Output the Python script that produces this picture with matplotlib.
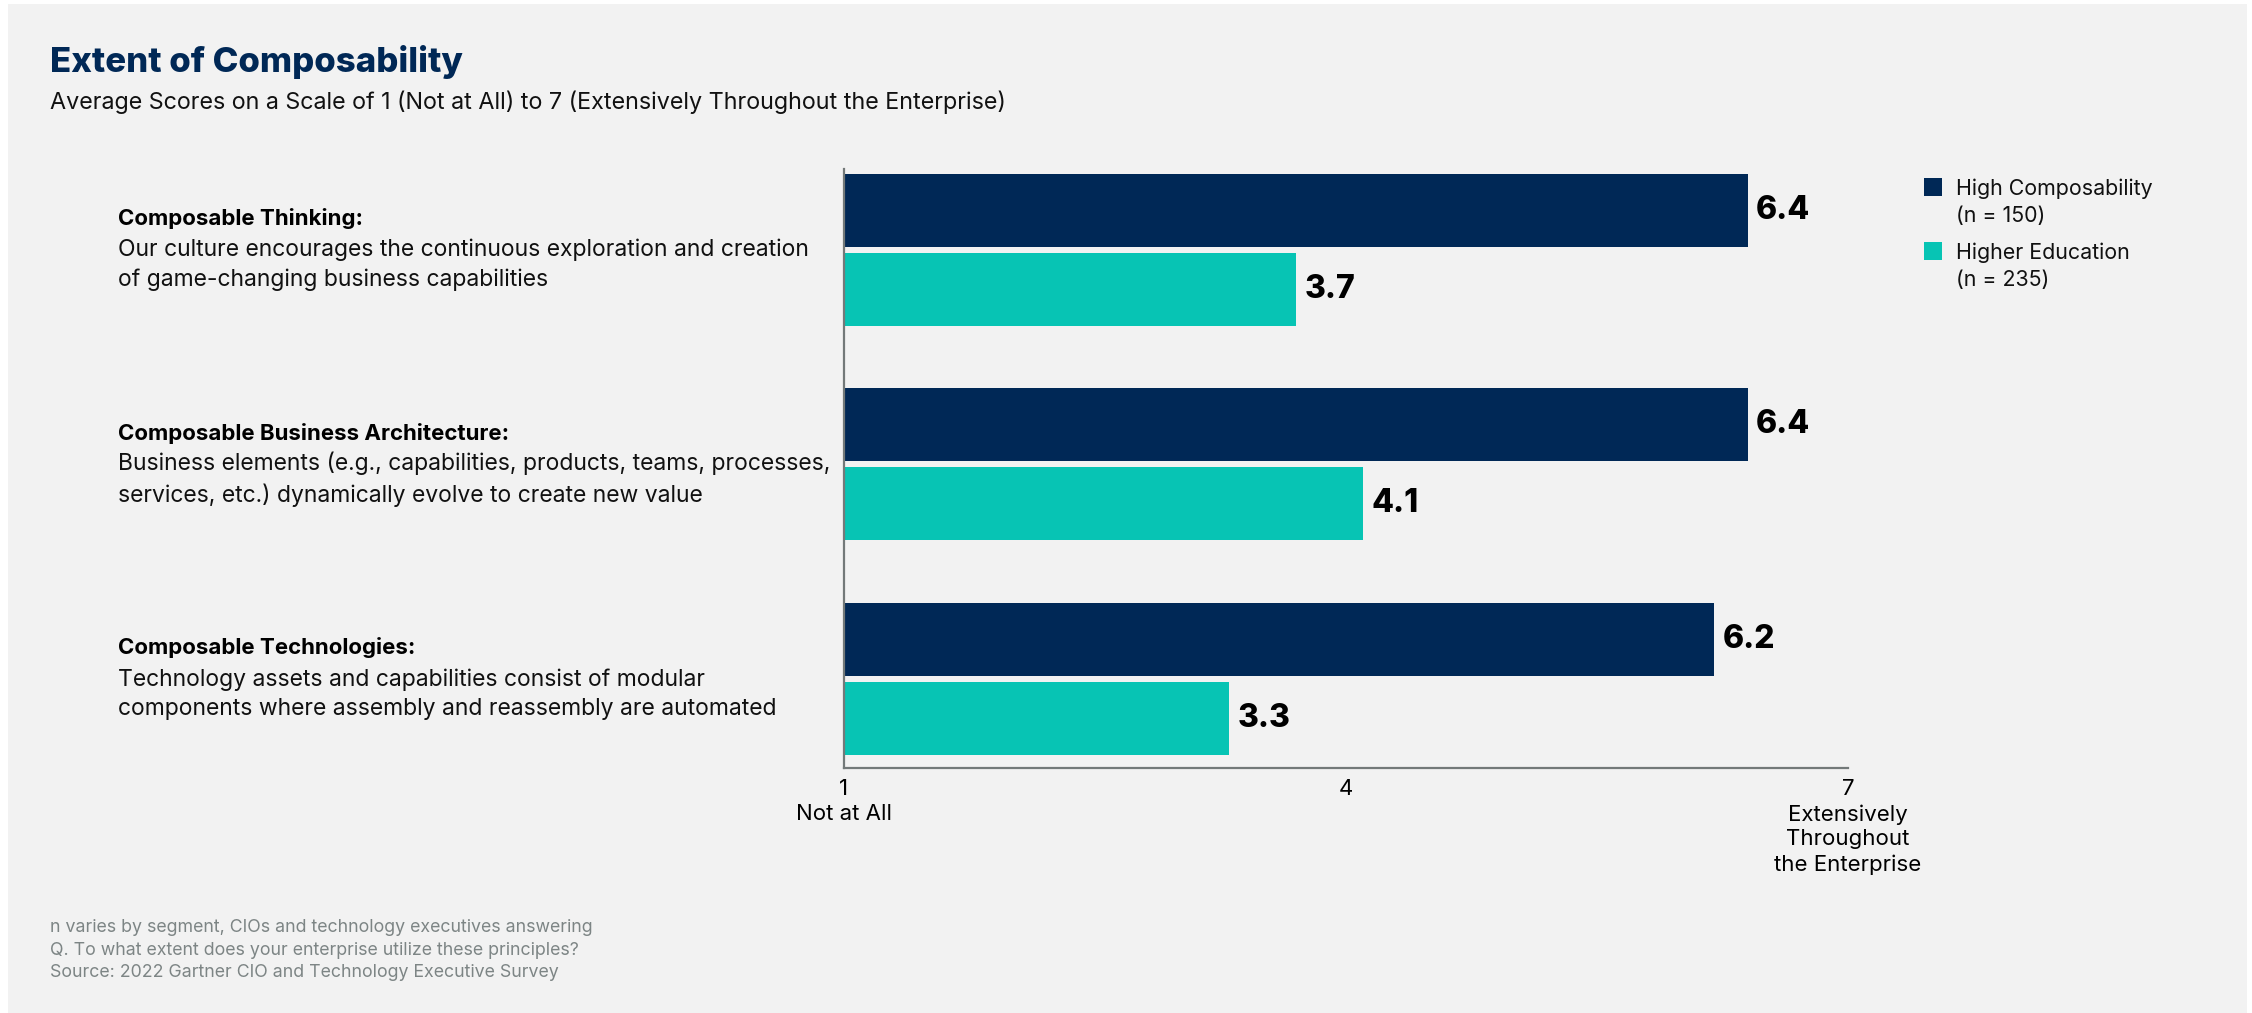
import matplotlib.pyplot as plt
import matplotlib.patches as patches
import matplotlib.transforms as transforms
import numpy as np

plt.rcParams['font.family'] = ['Inter', 'DejaVu Sans']

# data
categories = ['Composable Thinking:',
              'Composable Business Architecture:',
              'Composable Technologies:']
descriptions = ['Our culture encourages the continuous exploration and creation\n'
                'of game-changing business capabilities',
                'Business elements (e.g., capabilities, products, teams, processes,\n'
                'services, etc.) dynamically evolve to create new value',
                'Technology assets and capabilities consist of modular\n'
                'components where assembly and reassembly are automated']
high_composability = [6.4, 6.4, 6.2]
higher_education = [3.7, 4.1, 3.3]
series_names = ['High Composability\n(n = 150)', 'Higher Education\n(n = 235)']
tick_values = [1, 4, 7]
tick_labels = ['1\nNot at All', '4', '7\nExtensively\nThroughout\nthe Enterprise']
footnotes = ['n varies by segment, CIOs and technology executives answering',
             'Q. To what extent does your enterprise utilize these principles?',
             'Source: 2022 Gartner CIO and Technology Executive Survey']

navy = '#002856'
teal = '#07c4b4'
bg = '#f2f2f2'
axis_grey = '#737979'
W, H = 2252, 1013

fig = plt.figure(figsize=(W / 100, H / 100), dpi=100, facecolor='white')
fig.patches.append(patches.Rectangle((8 / W, 0), 2239 / W, 1 - 4 / H,
                                     transform=fig.transFigure,
                                     facecolor=bg, edgecolor='none', zorder=-10))

ax = fig.add_axes([844 / W, 1 - 768 / H, 1004 / W, 599 / H])
ax.set_facecolor('none')

y = np.arange(len(categories))
bar_h = 0.34
shift = 0.184
left = tick_values[0]

b1 = ax.barh(y - shift, np.array(high_composability) - left, left=left,
             height=bar_h, color=navy)
b2 = ax.barh(y + shift, np.array(higher_education) - left, left=left,
             height=bar_h, color=teal)

for vals, offs in [(high_composability, -shift), (higher_education, shift)]:
    for i, v in enumerate(vals):
        ax.annotate('%.1f' % v, xy=(v, i + offs), xytext=(6, 0),
                    textcoords='offset points', va='center', ha='left',
                    fontsize=23, fontweight='heavy', color='black')

ax.set_xlim(1, 7)
ax.set_ylim(2.414, -0.375)
ax.set_xticks(tick_values, tick_labels)
ax.set_yticks([])
ax.tick_params(axis='x', length=0, pad=8, labelsize=16, colors='black')
for lbl in ax.get_xticklabels():
    lbl.set_linespacing(1.3)

for s in ['top', 'right']:
    ax.spines[s].set_visible(False)
for s in ['left', 'bottom']:
    ax.spines[s].set_color(axis_grey)
    ax.spines[s].set_linewidth(1.6)

# category labels on the left
trans = transforms.blended_transform_factory(fig.transFigure, ax.transData)
for i, (cat, desc) in enumerate(zip(categories, descriptions)):
    ax.annotate(cat, xy=(118 / W, i), xycoords=trans, xytext=(0, 22.5),
                textcoords='offset points', va='center', ha='left',
                fontsize=16, fontweight='bold', color='black')
    ax.annotate(desc, xy=(118 / W, i), xycoords=trans, xytext=(0, -11),
                textcoords='offset points', va='center', ha='left',
                fontsize=16.5, color='#111111', linespacing=1.45)

# titles
fig.text(50 / W, 1 - 62 / H, 'Extent of Composability', fontsize=25,
         fontweight='heavy', color=navy, va='center', ha='left')
fig.text(50 / W, 1 - 102 / H,
         'Average Scores on a Scale of 1 (Not at All) to 7 (Extensively Throughout the Enterprise)',
         fontsize=16.8, color='#111111', va='center', ha='left')

# legend, drawn by hand so the square sits on the first line
for k, (name, col) in enumerate(zip(series_names, [navy, teal])):
    top = 187 + k * 64
    fig.patches.append(patches.Rectangle((1924 / W, 1 - (top + 9) / H), 18 / W, 18 / H,
                                         transform=fig.transFigure,
                                         facecolor=col, edgecolor='none'))
    fig.text(1956 / W, 1 - (top - 9) / H, name, fontsize=15.4, color='#111111',
             va='top', ha='left', linespacing=1.45)

# footnotes
fig.text(50 / W, 1 - 950 / H, '\n'.join(footnotes), fontsize=12.8,
         color='#7d8585', va='center', ha='left', linespacing=1.42)

plt.savefig('out.png', dpi=100, facecolor=fig.get_facecolor())
